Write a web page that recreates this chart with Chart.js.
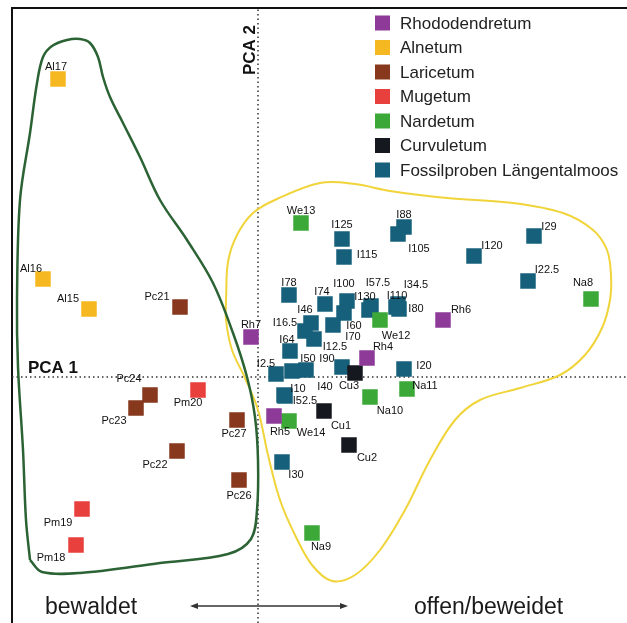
<!DOCTYPE html>
<html>
<head>
<meta charset="utf-8">
<script src="https://cdn.jsdelivr.net/npm/chart.js@4.4.1/dist/chart.umd.min.js"></script>
<style>
  html, body { margin: 0; padding: 0; background: #fff; }
  canvas { display: block; }
</style>
</head>
<body>
<canvas id="pcaChart" width="627" height="623"></canvas>
<script>
// groups (legend order) and their colours
const groups = ['Rhododendretum', 'Alnetum', 'Laricetum', 'Mugetum', 'Nardetum', 'Curvuletum', 'Fossilproben Längentalmoos'];
const groupColors = ['#8d3a98', '#f6b820', '#87381d', '#e8403c', '#3ca838', '#161820', '#17607b'];

// samples: [label, PCA 1, PCA 2]
const rhododendretum = [['Rh7', -0.07, 0.40], ['Rh4', 1.09, 0.19], ['Rh6', 1.85, 0.57], ['Rh5', 0.16, -0.39]];
const alnetum = [['Al17', -2.00, 2.98], ['Al16', -2.15, 0.98], ['Al15', -1.69, 0.68]];
const laricetum = [['Pc21', -0.78, 0.70], ['Pc24', -1.08, -0.18], ['Pc23', -1.22, -0.31], ['Pc27', -0.21, -0.43], ['Pc22', -0.81, -0.74], ['Pc26', -0.19, -1.03]];
const mugetum = [['Pm20', -0.60, -0.13], ['Pm19', -1.76, -1.32], ['Pm18', -1.82, -1.68]];
const nardetum = [['We13', 0.43, 1.54], ['We12', 1.22, 0.57], ['Na8', 3.33, 0.78], ['Na10', 1.12, -0.20], ['Na11', 1.49, -0.12], ['We14', 0.31, -0.44], ['Na9', 0.54, -1.56]];
const curvuletum = [['Cu3', 0.97, 0.04], ['Cu1', 0.66, -0.34], ['Cu2', 0.91, -0.68]];
const fossil = [
  ['I125', 0.84, 1.38], ['I115', 0.86, 1.20], ['I88', 1.46, 1.50], ['I105', 1.40, 1.43],
  ['I120', 2.16, 1.21], ['I29', 2.76, 1.41], ['I22.5', 2.70, 0.96], ['I78', 0.31, 0.82],
  ['I74', 0.67, 0.73], ['I100', 0.89, 0.76], ['I57.5', 1.13, 0.71], ['I130', 1.11, 0.67],
  ['I34.5', 1.40, 0.73], ['I110', 1.38, 0.70], ['I80', 1.41, 0.68], ['I46', 0.53, 0.54],
  ['I16.5', 0.47, 0.46], ['I60', 0.86, 0.64], ['I70', 0.75, 0.52], ['I12.5', 0.56, 0.38],
  ['I64', 0.32, 0.26], ['I2.5', 0.18, 0.03], ['I50', 0.48, 0.07], ['I40', 0.34, 0.06],
  ['I90', 0.84, 0.10], ['I20', 1.46, 0.08], ['I10', 0.26, -0.18], ['I52.5', 0.27, -0.19],
  ['I30', 0.24, -0.85]
];
const samples = [rhododendretum, alnetum, laricetum, mugetum, nardetum, curvuletum, fossil];

// hand drawn outlines of the two groups (PCA units)
const forestOutline = [
  [-2.28, -1.83], [-2.32, -1.43], [-2.35, -0.73], [-2.40, 0.10], [-2.41, 0.77], [-2.38, 1.77],
  [-2.28, 2.44], [-2.21, 2.94], [-2.15, 3.20], [-2.06, 3.31], [-1.91, 3.37], [-1.78, 3.38],
  [-1.68, 3.34], [-1.60, 3.20], [-1.55, 3.00], [-1.48, 2.80], [-1.35, 2.54], [-1.18, 2.20],
  [-0.98, 1.77], [-0.71, 1.37], [-0.45, 0.94], [-0.25, 0.44], [-0.11, 0.00], [-0.03, -0.40],
  [0.00, -0.83], [-0.01, -1.33], [-0.07, -1.62], [-0.30, -1.77], [-0.98, -1.86], [-1.78, -1.96],
  [-2.16, -1.95], [-2.28, -1.83]
];
const openOutline = [
  [-0.32, 0.77], [-0.30, 1.15], [-0.21, 1.42], [-0.05, 1.64], [0.19, 1.78], [0.62, 1.94],
  [0.97, 1.93], [1.32, 1.86], [1.89, 1.79], [2.55, 1.74], [3.05, 1.64], [3.35, 1.47],
  [3.49, 1.27], [3.53, 1.02], [3.52, 0.77], [3.44, 0.49], [3.27, 0.22], [3.02, 0.02],
  [2.62, -0.11], [2.22, -0.23], [1.97, -0.43], [1.72, -0.83], [1.47, -1.33], [1.22, -1.73],
  [0.97, -1.98], [0.74, -2.04], [0.54, -1.88], [0.37, -1.58], [0.22, -1.23], [0.10, -0.78],
  [0.00, -0.33], [-0.13, -0.01], [-0.26, 0.27], [-0.32, 0.57], [-0.32, 0.77]
];

const xRange = [-2.58, 3.69];
const yRange = [-2.46, 3.77];

// label placement relative to the marker, in px
const labelOffset = {
  Al17: [-2, -12], Al16: [-12, -10], Al15: [-21, -10],
  Pc21: [-23, -10], Pc24: [-21, -16], Pc23: [-22, 13], Pc27: [-3, 14], Pc22: [-22, 14], Pc26: [0, 16],
  Pm20: [-10, 13], Pm19: [-24, 14], Pm18: [-25, 13],
  Rh7: [0, -12], Rh4: [16, -11], Rh6: [18, -10], Rh5: [6, 16],
  We13: [0, -12], We12: [16, 16], Na8: [-8, -16], Na10: [20, 14], Na11: [18, -3], We14: [22, 12], Na9: [9, 14],
  Cu3: [-6, 13], Cu1: [17, 15], Cu2: [18, 13],
  I125: [0, -14], I115: [23, -2], I88: [0, -12], I105: [21, 15], I120: [18, -10], I29: [15, -9],
  'I22.5': [19, -11], I78: [0, -12], I74: [-3, -12], I100: [-3, -17], 'I57.5': [7, -23], I130: [-4, -13],
  'I34.5': [18, -19], I110: [1, -11], I80: [17, 0], I46: [-6, -13], 'I16.5': [-20, -8],
  I60: [10, 13], I70: [20, 12], 'I12.5': [21, 8], I64: [-3, -11], 'I2.5': [-10, -10],
  I50: [2, -11], I40: [33, 16], I90: [-15, -8], I20: [20, -3], I10: [14, -6], 'I52.5': [20, 5], I30: [14, 13]
};

const datasets = samples.map((list, i) => ({
  label: groups[i],
  data: list.map(s => ({ x: s[1], y: s[2], name: s[0] })),
  pointStyle: 'rect',
  pointRadius: 10.6,
  backgroundColor: groupColors[i],
  borderColor: groupColors[i],
  borderWidth: 0.5
}));

function outline(points, color, width) {
  return {
    label: '',
    data: points.map(p => ({ x: p[0], y: p[1] })),
    showLine: true,
    pointRadius: 0,
    borderColor: color,
    borderWidth: width,
    tension: 0.35,
    fill: false
  };
}

datasets.push(outline(forestOutline, '#2b6335', 2.5));
datasets.push(outline(openOutline, '#f0d43a', 2));
// dotted PCA axes
datasets.push({ label: '', data: [{ x: 0, y: yRange[0] }, { x: 0, y: 3.69 }], showLine: true, pointRadius: 0,
  borderColor: '#333', borderWidth: 1.5, borderDash: [1.5, 3] });
datasets.push({ label: '', data: [{ x: -2.46, y: 0 }, { x: xRange[1], y: 0 }], showLine: true, pointRadius: 0,
  borderColor: '#333', borderWidth: 1.5, borderDash: [1.5, 3] });

const font = '"Liberation Sans", Arial, sans-serif';

const decor = {
  id: 'decor',
  beforeDatasetsDraw(chart) {
    const c = chart.ctx;
    c.save();
    c.strokeStyle = '#111';
    c.lineWidth = 2;
    c.beginPath();
    c.moveTo(12, 623);
    c.lineTo(12, 8);
    c.lineTo(627, 8);
    c.stroke();
    c.restore();
  },
  afterDatasetsDraw(chart) {
    const c = chart.ctx;
    const xs = chart.scales.x, ys = chart.scales.y;
    c.save();

    // sample labels
    c.font = '11px ' + font;
    c.fillStyle = '#111';
    c.textAlign = 'center';
    c.textBaseline = 'middle';
    samples.forEach((list, i) => {
      const meta = chart.getDatasetMeta(i);
      list.forEach((s, j) => {
        const off = labelOffset[s[0]] || [0, -13];
        const p = meta.data[j];
        c.fillText(s[0], p.x + off[0], p.y + off[1]);
      });
    });

    // axis names
    c.font = 'bold 17px ' + font;
    c.textAlign = 'left';
    c.textBaseline = 'alphabetic';
    c.fillText('PCA 1', 28, 373);
    c.save();
    c.translate(255, 50);
    c.rotate(-Math.PI / 2);
    c.textAlign = 'center';
    c.fillText('PCA 2', 0, 0);
    c.restore();

    // legend
    c.font = '17px ' + font;
    c.textBaseline = 'middle';
    groups.forEach((g, i) => {
      const yc = 23 + i * 24.5;
      c.fillStyle = groupColors[i];
      c.fillRect(375, yc - 7.5, 15, 15);
      c.fillStyle = '#222';
      c.fillText(g, 400, yc + 1);
    });

    // gradient caption with double arrow
    c.font = '23px ' + font;
    c.textBaseline = 'alphabetic';
    c.fillStyle = '#1a1a1a';
    c.fillText('bewaldet', 45, 614);
    c.fillText('offen/beweidet', 414, 614);
    const ax1 = xs.getPixelForValue(-0.68), ax2 = xs.getPixelForValue(0.90), ay = ys.getPixelForValue(-2.29);
    c.strokeStyle = '#333';
    c.fillStyle = '#333';
    c.lineWidth = 1.5;
    c.beginPath();
    c.moveTo(ax1 + 4, ay);
    c.lineTo(ax2 - 4, ay);
    c.stroke();
    c.beginPath();
    c.moveTo(ax1, ay); c.lineTo(ax1 + 8, ay - 3); c.lineTo(ax1 + 8, ay + 3); c.closePath();
    c.moveTo(ax2, ay); c.lineTo(ax2 - 8, ay - 3); c.lineTo(ax2 - 8, ay + 3); c.closePath();
    c.fill();
    c.restore();
  }
};

new Chart(document.getElementById('pcaChart'), {
  type: 'scatter',
  data: { datasets: datasets },
  options: {
    responsive: false,
    animation: false,
    devicePixelRatio: 1,
    events: [],
    layout: { padding: 0, autoPadding: false },
    scales: {
      x: { type: 'linear', min: xRange[0], max: xRange[1], display: false },
      y: { type: 'linear', min: yRange[0], max: yRange[1], display: false }
    },
    plugins: {
      legend: { display: false },
      tooltip: { enabled: false }
    }
  },
  plugins: [decor]
});
</script>
</body>
</html>
